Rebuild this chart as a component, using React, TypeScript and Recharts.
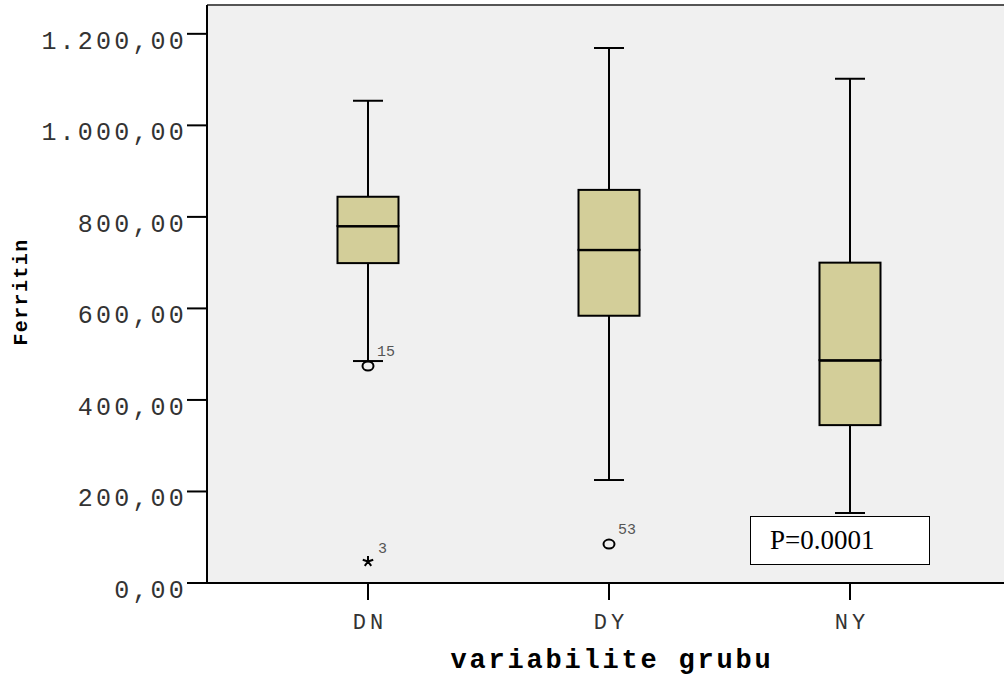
import React from "react";
import { ComposedChart, Bar, Line, XAxis, YAxis, CartesianGrid, ReferenceLine } from "recharts";

// group summary values
const groups = ["DN", "DY", "NY"];
const mins = [485, 225, 153];
const q1s = [699, 584, 345];
const medians = [780, 728, 487];
const q3s = [844, 859, 700];
const maxs = [1054, 1169, 1102];

// mild outliers (circles) and extremes (stars), with case numbers
const outlierValues = [474, 85, null];
const outlierCases = ["15", "53", null];
const extremeValues = [47, null, null];
const extremeCases = ["3", null, null];

const yTicks = [0, 200, 400, 600, 800, 1000, 1200];
const yMax = 1263;

const data = groups.map((g, i) => ({
  name: g,
  base: mins[i],
  lowWhisker: q1s[i] - mins[i],
  lowBox: medians[i] - q1s[i],
  highBox: q3s[i] - medians[i],
  highWhisker: maxs[i] - q3s[i],
  outlier: outlierValues[i],
  outlierCase: outlierCases[i],
  extreme: extremeValues[i],
  extremeCase: extremeCases[i],
}));

const MONO = "'Liberation Mono', 'Courier New', monospace";
const BOX_FILL = "#d3ce99";

const fmt = (n: number) => {
  const s = Math.round(n).toString().replace(/\B(?=(\d{3})+(?!\d))/g, ".");
  return s + ",00";
};

const LowWhisker = (p: any) => {
  const cx = p.x + p.width / 2;
  return (
    <g>
      <line x1={cx} x2={cx} y1={p.y} y2={p.y + p.height} stroke="#000" strokeWidth={2} />
      <line x1={cx - 15} x2={cx + 15} y1={p.y + p.height} y2={p.y + p.height} stroke="#000" strokeWidth={2} />
    </g>
  );
};

const HighWhisker = (p: any) => {
  const cx = p.x + p.width / 2;
  return (
    <g>
      <line x1={cx} x2={cx} y1={p.y} y2={p.y + p.height} stroke="#000" strokeWidth={2} />
      <line x1={cx - 15} x2={cx + 15} y1={p.y} y2={p.y} stroke="#000" strokeWidth={2} />
    </g>
  );
};

const BoxPart = (p: any) => (
  <rect x={p.x} y={p.y} width={p.width} height={p.height} fill={BOX_FILL} stroke="#000" strokeWidth={2} />
);

const LowBox = (p: any) => (
  <g>
    <BoxPart {...p} />
    <line x1={p.x} x2={p.x + p.width} y1={p.y} y2={p.y} stroke="#000" strokeWidth={3} />
  </g>
);

const OutlierDot = (p: any) => {
  if (p.cy == null || p.value == null || isNaN(p.cy)) return null;
  return (
    <g key={`o-${p.index}`}>
      <ellipse cx={p.cx} cy={p.cy} rx={5.5} ry={4.5} fill="none" stroke="#000" strokeWidth={2} />
      <text x={p.cx + 9} y={p.cy - 10} fontFamily={MONO} fontSize={15} fill="#555">
        {p.payload.outlierCase}
      </text>
    </g>
  );
};

const ExtremeDot = (p: any) => {
  if (p.cy == null || p.value == null || isNaN(p.cy)) return null;
  const arms = [0, 72, 144, 216, 288].map((a) => {
    const r = (a - 90) * (Math.PI / 180);
    return `M${p.cx},${p.cy}L${p.cx + 5.5 * Math.cos(r)},${p.cy + 5.5 * Math.sin(r)}`;
  });
  return (
    <g key={`e-${p.index}`}>
      <path d={arms.join("")} stroke="#000" strokeWidth={2} fill="none" />
      <text x={p.cx + 10} y={p.cy - 8} fontFamily={MONO} fontSize={15} fill="#555">
        {p.payload.extremeCase}
      </text>
    </g>
  );
};

const YTick = (p: any) => (
  <text x={p.x} y={p.y + 15} textAnchor="end" fontFamily={MONO} fontSize={25} letterSpacing={3.2} fill="#333">
    {fmt(p.payload.value)}
  </text>
);

const XTick = (p: any) => (
  <text x={p.x + 2} y={p.y + 29} textAnchor="middle" fontFamily={MONO} fontSize={22} letterSpacing={4} fill="#333">
    {p.payload.value}
  </text>
);

export default function App() {
  return (
    <div style={{ position: "absolute", left: 0, top: 0, width: 1004, height: 681, background: "#fff" }}>
      <ComposedChart width={1004} height={681} data={data} margin={{ top: 5, right: 0, bottom: 0, left: 0 }} barSize={61}>
        <CartesianGrid fill="#f0f0f0" horizontal={false} vertical={false} />
        <XAxis
          dataKey="name"
          type="category"
          height={98}
          padding={{ left: 40.5, right: 33.5 }}
          tickSize={17}
          tickMargin={0}
          axisLine={{ stroke: "#000", strokeWidth: 2 }}
          tickLine={{ stroke: "#000", strokeWidth: 2 }}
          tick={<XTick />}
          label={{
            content: () => (
              <text x={612} y={668} textAnchor="middle" fontFamily={MONO} fontWeight="bold" fontSize={27} letterSpacing={2.8} fill="#000">
                variabilite grubu
              </text>
            ),
          }}
        />
        <YAxis
          width={207}
          type="number"
          domain={[0, yMax]}
          ticks={yTicks}
          allowDataOverflow
          tickSize={20}
          tickMargin={0}
          axisLine={{ stroke: "#000", strokeWidth: 2 }}
          tickLine={{ stroke: "#000", strokeWidth: 2 }}
          tick={<YTick />}
          label={{
            content: () => (
              <text
                x={27}
                y={292}
                transform="rotate(-90 27 292)"
                textAnchor="middle"
                fontFamily={MONO}
                fontWeight="bold"
                fontSize={20}
                letterSpacing={1.4}
                fill="#000"
              >
                Ferritin
              </text>
            ),
          }}
        />
        <ReferenceLine y={yMax} stroke="#555" strokeWidth={2} />
        <Bar dataKey="base" stackId="box" fill="none" isAnimationActive={false} />
        <Bar dataKey="lowWhisker" stackId="box" shape={<LowWhisker />} isAnimationActive={false} />
        <Bar dataKey="lowBox" stackId="box" shape={<LowBox />} isAnimationActive={false} />
        <Bar dataKey="highBox" stackId="box" shape={<BoxPart />} isAnimationActive={false} />
        <Bar dataKey="highWhisker" stackId="box" shape={<HighWhisker />} isAnimationActive={false} />
        <Line dataKey="outlier" stroke="none" dot={<OutlierDot />} activeDot={false} isAnimationActive={false} />
        <Line dataKey="extreme" stroke="none" dot={<ExtremeDot />} activeDot={false} isAnimationActive={false} />
      </ComposedChart>
      <div
        style={{
          position: "absolute",
          left: 750,
          top: 516,
          width: 180,
          height: 49,
          boxSizing: "border-box",
          border: "1.5px solid #000",
          background: "#fff",
          fontFamily: "'Liberation Serif', 'Times New Roman', serif",
          fontSize: 27,
          lineHeight: "47px",
          paddingLeft: 19,
          color: "#000",
        }}
      >
        P=0.0001
      </div>
    </div>
  );
}
